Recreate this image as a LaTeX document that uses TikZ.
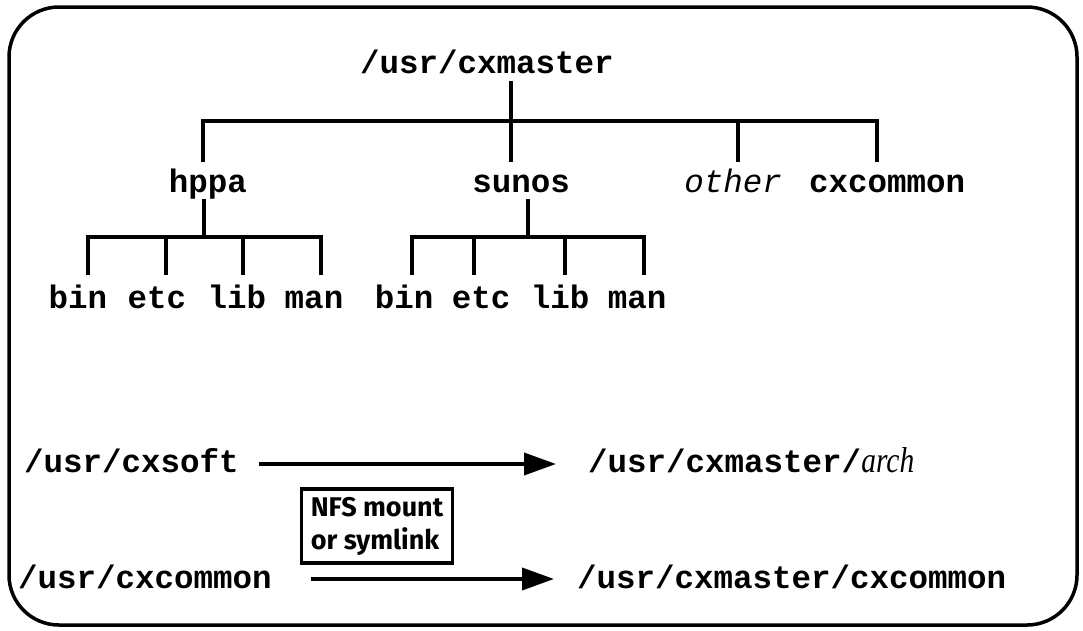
\documentclass[tikz,border=0pt]{standalone}
\usepackage{fontspec}
\setmainfont{Liberation Serif}
\setmonofont{Liberation Mono}
\newfontfamily\nfsfont{Fira Sans}
\newfontfamily\archfont{Liberation Serif}[FakeStretch=0.82]
\usetikzlibrary{arrows.meta}
\begin{document}
\begin{tikzpicture}[x=1pt,y=-1pt,
  lbl/.style={inner sep=0pt,anchor=base,font=\fontsize{32.5}{36}\selectfont\ttfamily\bfseries},
  ital/.style={inner sep=0pt,anchor=base,font=\fontsize{32.5}{36}\selectfont\ttfamily\itshape},
  tree/.style={line width=3.5pt},
  arr/.style={line width=3.8pt,-{Triangle[length=32pt,width=22pt]}},
  nfs/.style={draw,line width=3.2pt,inner xsep=9pt,inner ysep=8pt,align=left,font=\fontsize{27}{33}\selectfont\nfsfont\bfseries}]
\useasboundingbox (0,0) rectangle (1083,630);
\draw[line width=3.5pt,rounded corners=50pt] (9,7) rectangle (1077,625);
% tree
\node[lbl] (root) at (487,73) {/usr/cxmaster};
\node[lbl] (hppa) at (208,192) {hppa};
\node[lbl] (sunos) at (521,192) {sunos};
\node[ital] (other) at (733,192) {other};
\node[lbl] (cxc) at (887,192) {cxcommon};
\coordinate (t0) at (511,81);
\coordinate (bar1) at (511,121);
\draw[tree] (t0) -- (bar1);
\draw[tree] (203,162) |- (877,121) -- (877,162);
\draw[tree] (bar1) -- (511,162);
\draw[tree] (738,121) -- (738,162);
% hppa children
\node[lbl] (b1) at (78,308) {bin};
\node[lbl] (e1) at (157,308) {etc};
\node[lbl] (l1) at (237,308) {lib};
\node[lbl] (m1) at (314,308) {man};
\coordinate (h0) at (204,199);
\draw[tree] (h0) -- (204,237);
\draw[tree] (88,275) |- (321,237) -- (321,275);
\draw[tree] (166,237) -- (166,275);
\draw[tree] (243,237) -- (243,275);
% sunos children
\node[lbl] (b2) at (404,308) {bin};
\node[lbl] (e2) at (481,308) {etc};
\node[lbl] (l2) at (560,308) {lib};
\node[lbl] (m2) at (637,308) {man};
\coordinate (s0) at (528,199);
\draw[tree] (s0) -- (528,237);
\draw[tree] (412,275) |- (644,237) -- (644,275);
\draw[tree] (474,237) -- (474,275);
\draw[tree] (565,237) -- (565,275);
% bottom
\node[lbl,anchor=base west] (soft) at (24,472) {/usr/cxsoft};
\node[lbl,anchor=base west] (arch) at (588,472) {/usr/cxmaster/{\fontsize{36}{36}\archfont\mdseries\itshape arch}};
\node[lbl,anchor=base west] (comm) at (18,588) {/usr/cxcommon};
\node[lbl,anchor=base west] (mcomm) at (577,588) {/usr/cxmaster/cxcommon};
\node[nfs] (box) at (377,526) {NFS mount\\or symlink};
\coordinate (a1s) at (259,464);
\coordinate (a1e) at (556,464);
\coordinate (a2s) at (311,579);
\coordinate (a2e) at (554,579);
\draw[arr] (a1s) -- (a1e);
\draw[arr] (a2s) -- (a2e);
\end{tikzpicture}
\end{document}
